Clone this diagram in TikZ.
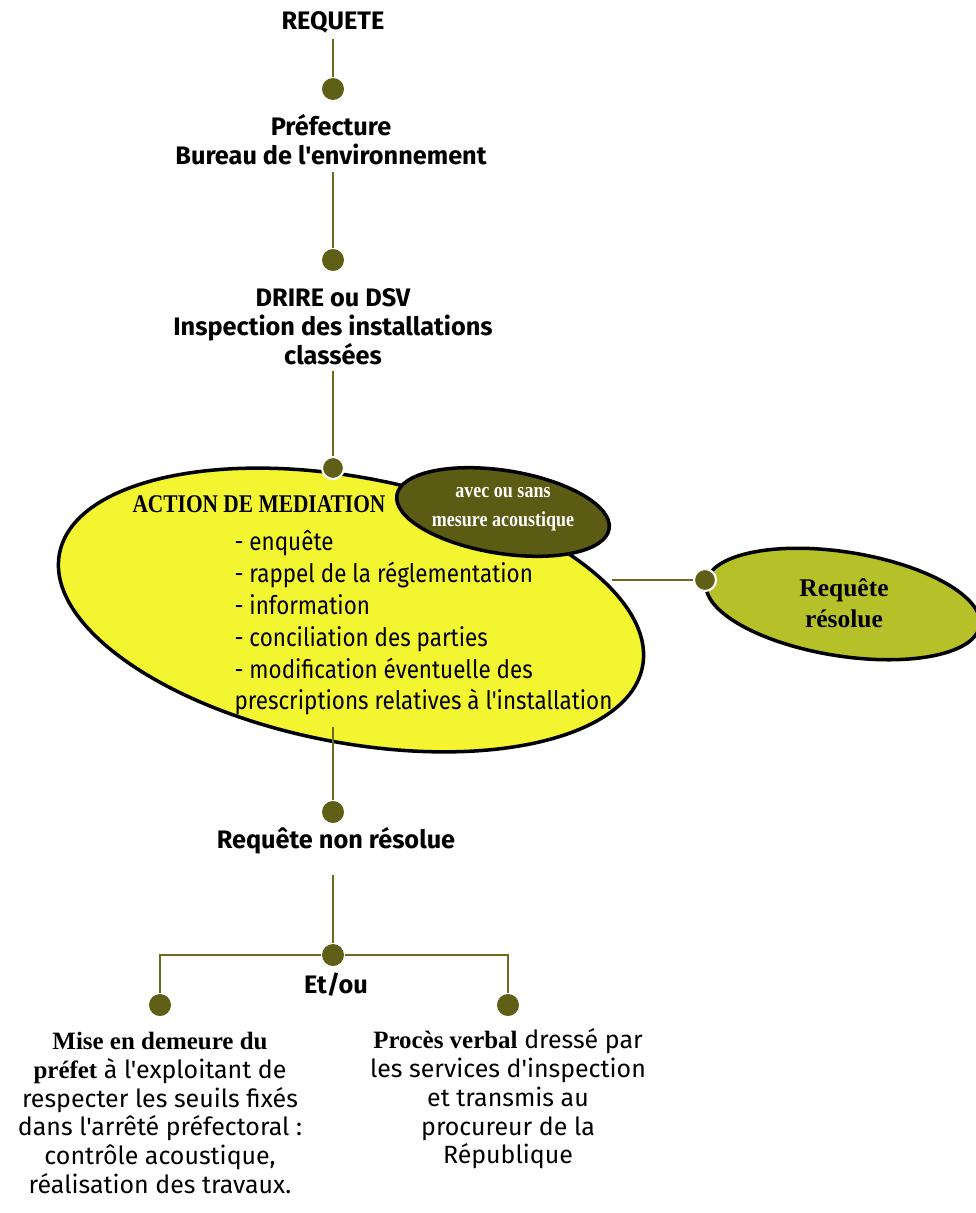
\documentclass[tikz,border=0pt]{standalone}
\usepackage{fontspec}
\setmainfont{Fira Sans}[Ligatures=TeXOff]
\newfontfamily\condfont{Fira Sans}[FakeStretch=0.88, Ligatures=TeXOff]
\newfontfamily\titlefont{Liberation Serif}[Ligatures=TeXOff]
\newfontfamily\narrowserif{Liberation Serif}[FakeStretch=0.84, Ligatures=TeXOff]
\usetikzlibrary{shapes.geometric}
\definecolor{linecol}{HTML}{6B6B1E}
\definecolor{dotcol}{HTML}{5F5F17}
\definecolor{medyellow}{HTML}{F2F52F}
\definecolor{darkolive}{HTML}{5B5B14}
\definecolor{resgreen}{HTML}{B6C12A}

\begin{document}
\begin{tikzpicture}[x=0.02cm, y=0.02cm, semithick,
    lbl/.style={font=\bfseries\fontsize{14.4}{16.4}\selectfont, align=center},
    txt/.style={font=\fontsize{14.2}{16.4}\selectfont, align=center},
    dot/.style={circle, fill=dotcol, inner sep=0pt, minimum size=0.44cm},
    rimdot/.style={dot, draw=white, line width=1.2pt},
    link/.style={draw=linecol, line width=1.6pt},
    blob/.style={ellipse, draw, line width=2pt}]
    \useasboundingbox (0,0) rectangle (976,-1213);

    \node[lbl] (req) at (333,-22) {REQUETE};
    \node[dot] (d1) at (333,-89) {};
    \node[lbl] (pref) at (331,-140) {Préfecture\\Bureau de l'environnement};
    \node[dot] (d2) at (333,-260) {};
    \node[lbl] (drire) at (333,-327) {DRIRE ou DSV\\Inspection des installations\\classées};
    \draw[link] (req) -- (d1);
    \draw[link] (pref.south -| d2) -- (d2);
    \draw[link] (drire) -- (333,-468);

    \node[blob, fill=medyellow, minimum width=11.88cm, minimum height=5.3cm, rotate=-11] (med) at (351,-610) {};
    \node[rimdot] (d3) at (333,-468) {};
    \node[blob, fill=darkolive, minimum width=4.3cm, minimum height=1.66cm, rotate=-9] (acou) at (503,-512) {};
    \node[font=\narrowserif\bfseries\fontsize{12.2}{16.4}\selectfont, text=white, align=center] (acoutxt) at (503,-509) {avec ou sans\\mesure acoustique};
    \node[anchor=base west, inner sep=0pt, font=\narrowserif\bfseries\fontsize{14.5}{16}\selectfont] (acttitle) at (132,-512) {ACTION DE MEDIATION};
    \node[anchor=west, inner sep=0pt, align=left, font=\condfont\fontsize{14.5}{18.1}\selectfont] (actlist) at (234,-623) {- enquête\\- rappel de la réglementation\\- information\\- conciliation des parties\\- modification éventuelle des\\prescriptions relatives à l'installation};

    \node[blob, fill=resgreen, minimum width=5.54cm, minimum height=2.08cm, rotate=-9] (res) at (843,-604) {};
    \node[font=\titlefont\bfseries\fontsize{14.5}{17.6}\selectfont, align=center] (restxt) at (844,-603) {Requête\\résolue};
    \coordinate (medright) at (612,-580);
    \node[rimdot] (d5) at (705,-580) {};
    \draw[link] (medright) -- (d5);

    \coordinate (medlow) at (333,-727);
    \node[dot] (d4) at (333,-812) {};
    \draw[link] (medlow) -- (d4);
    \node[lbl] (nonres) at (336,-841) {Requête non résolue};
    \node[dot] (d6) at (333,-955) {};
    \draw[link] ([yshift=-8]nonres.south -| d6) -- (d6);
    \node[dot] (d7) at (160,-1005) {};
    \node[dot] (d8) at (508,-1005) {};
    \draw[link] (d6) -| (d7);
    \draw[link] (d6) -| (d8);
    \node[lbl] (etou) at (336,-985) {Et/ou};

    \node[txt] (mise) at (160,-1113) {{\titlefont\bfseries Mise en demeure du}\\{\titlefont\bfseries préfet} à l'exploitant de\\respecter les seuils fixés\\dans l'arrêté préfectoral :\\contrôle acoustique,\\réalisation des travaux.};
    \node[txt] (pv) at (508,-1099) {{\titlefont\bfseries Procès verbal} dressé par\\les services d'inspection\\et transmis au\\procureur de la\\République};
\end{tikzpicture}
\end{document}
